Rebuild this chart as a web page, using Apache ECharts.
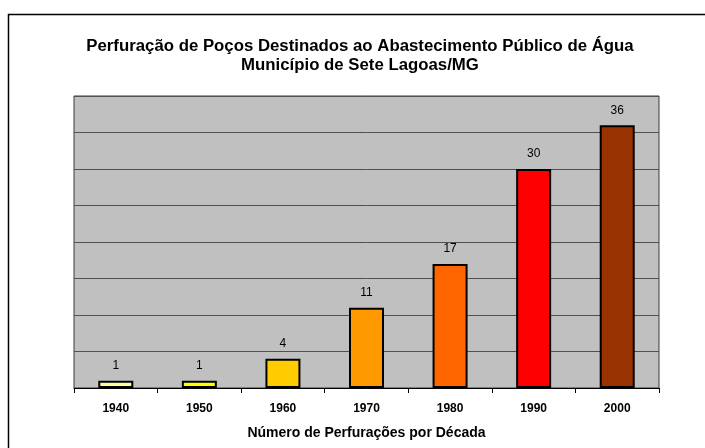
<!DOCTYPE html>
<html lang="pt-BR">

<head>
    <meta charset="UTF-8">
    <title>Perfuração de Poços - Sete Lagoas</title>
    <script src="https://cdn.jsdelivr.net/npm/echarts@6.0.0/dist/echarts.min.js"></script>
    <style>
        body {
            margin: 0;
            padding: 0;
            background: #fff;
        }

        #main {
            width: 705px;
            height: 448px;
        }
    </style>
</head>

<body>
    <div id="main"></div>
    <script>
        // dados do gráfico
        var decadas = ['1940', '1950', '1960', '1970', '1980', '1990', '2000'];
        var perfuracoes = [1, 1, 4, 11, 17, 30, 36];
        var cores = ['#FFFF99', '#FFFF00', '#FFCC00', '#FF9900', '#FF6600', '#FF0000', '#993300'];

        var fonte = "'Liberation Sans', Arial, sans-serif";

        var myChart = echarts.init(document.getElementById('main'));

        var option = {
            backgroundColor: '#fff',
            animation: false,
            title: {
                text: 'Perfuração de Poços Destinados ao Abastecimento Público de Água\nMunicípio de Sete Lagoas/MG',
                left: 355,
                top: 32,
                textAlign: 'center',
                textStyle: {
                    fontFamily: fonte,
                    fontSize: 16.8,
                    fontWeight: 'bold',
                    color: '#000',
                    lineHeight: 19
                }
            },
            // moldura externa
            graphic: [{
                type: 'rect',
                shape: { x: 8.5, y: 14.5, width: 1000, height: 1000 },
                style: { fill: 'none', stroke: '#000', lineWidth: 1.5 },
                silent: true
            }],
            grid: {
                left: 74,
                right: 46,
                top: 96,
                bottom: 60,
                show: true,
                backgroundColor: '#C0C0C0',
                borderColor: '#3a3a3a',
                borderWidth: 1
            },
            xAxis: {
                type: 'category',
                data: decadas,
                name: 'Número de Perfurações por Década',
                nameLocation: 'middle',
                nameGap: 38,
                nameTextStyle: {
                    fontFamily: fonte,
                    fontSize: 14,
                    fontWeight: 'bold',
                    color: '#000'
                },
                axisLine: { lineStyle: { color: '#000', width: 1 } },
                axisTick: { show: true, length: 5, lineStyle: { color: '#000' } },
                axisLabel: {
                    fontFamily: fonte,
                    fontSize: 12,
                    fontWeight: 'bold',
                    color: '#000',
                    margin: 15
                }
            },
            yAxis: {
                type: 'value',
                min: 0,
                max: 40,
                interval: 5,
                axisLine: { show: false },
                axisTick: { show: false },
                axisLabel: { show: false },
                splitLine: { lineStyle: { color: '#505050', width: 1 } }
            },
            series: [{
                type: 'bar',
                barWidth: 35,
                data: perfuracoes.map(function (v, i) {
                    return {
                        value: v,
                        itemStyle: { color: cores[i] }
                    };
                }),
                itemStyle: {
                    borderColor: '#000',
                    borderWidth: 2
                },
                label: {
                    show: true,
                    position: 'top',
                    distance: 9,
                    fontFamily: fonte,
                    fontSize: 12,
                    color: '#000'
                }
            }]
        };

        option && myChart.setOption(option);
    </script>
</body>

</html>
